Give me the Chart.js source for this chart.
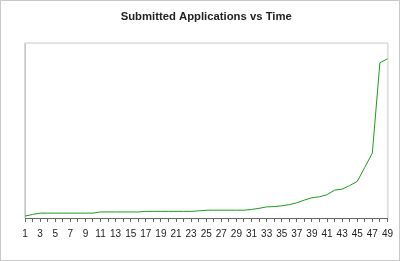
<!DOCTYPE html>
<html>
<head>
<meta charset="utf-8">
<script src="https://cdn.jsdelivr.net/npm/chart.js@4/dist/chart.umd.min.js"></script>
<style>
  html, body { margin: 0; padding: 0; background: #fff; }
  #wrap { width: 398px; height: 259px; border: 1px solid #c8c8c8; }
</style>
</head>
<body>
<div id="wrap"><canvas id="chart" width="398" height="259"></canvas></div>
<script>
const periods = [];
for (let i = 1; i <= 49; i++) periods.push(String(i));

const submitted = [
  20, 36, 50, 50, 50, 50, 50, 50, 50, 50,
  62, 62, 62, 62, 62, 62, 68, 68, 68, 68,
  68, 68, 68, 73, 80, 80, 80, 80, 80, 80,
  88, 99, 114, 117, 125, 137, 156, 184, 208, 218,
  239, 286, 296, 333, 375, 520, 666, 1592, 1633
];

const yMax = 1800;

// light grey frame round the plot area (top, right, left)
const frame = {
  id: 'frame',
  beforeDatasetsDraw(chart) {
    const { ctx, chartArea: a } = chart;
    ctx.save();
    ctx.strokeStyle = '#c8c8c8';
    ctx.lineWidth = 1;
    ctx.beginPath();
    ctx.moveTo(a.left + 0.5, a.bottom);
    ctx.lineTo(a.left + 0.5, a.top + 0.5);
    ctx.lineTo(a.right + 0.5, a.top + 0.5);
    ctx.lineTo(a.right + 0.5, a.bottom);
    ctx.stroke();
    ctx.fillStyle = '#d8d8d8';
    ctx.fillRect(a.left - 1, a.top, 1, a.bottom - a.top);
    ctx.restore();
  }
};

new Chart(document.getElementById('chart'), {
  type: 'line',
  data: {
    labels: periods,
    datasets: [{
      data: submitted,
      borderColor: '#1f9a1f',
      borderWidth: 1,
      pointRadius: 0,
      tension: 0,
      fill: false
    }]
  },
  options: {
    responsive: false,
    animation: false,
    layout: { padding: { left: 24, right: 9, top: 4, bottom: 14 } },
    plugins: {
      legend: { display: false },
      tooltip: { enabled: false },
      title: {
        display: true,
        fullSize: false,
        text: 'Submitted Applications vs Time',
        color: '#222',
        font: { family: 'Liberation Sans, Arial, sans-serif', size: 11.3, weight: 'bold' },
        padding: { top: 5, bottom: 19 }
      }
    },
    scales: {
      x: {
        offset: false,
        grid: { display: true, drawOnChartArea: false, tickLength: 4, color: '#666' },
        border: { color: '#666', width: 1 },
        ticks: {
          autoSkip: false,
          maxRotation: 0,
          padding: 6,
          color: '#222',
          font: { family: 'Liberation Sans, Arial, sans-serif', size: 10 },
          callback: function (v, i) { return i % 2 === 0 ? this.getLabelForValue(v) : ''; }
        }
      },
      y: {
        display: false,
        min: 0,
        max: yMax
      }
    }
  },
  plugins: [frame]
});
</script>
</body>
</html>
